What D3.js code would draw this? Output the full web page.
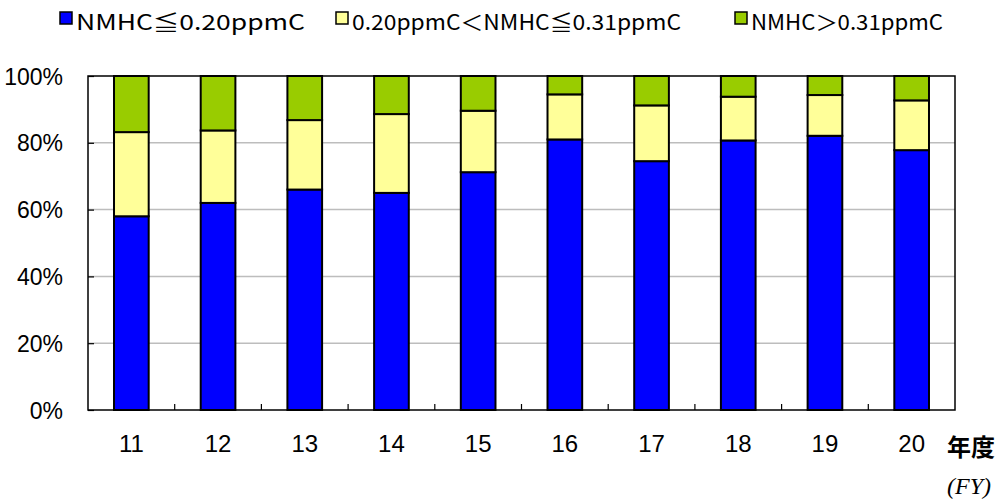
<!DOCTYPE html>
<html><head><meta charset="utf-8">
<script src="https://cdn.jsdelivr.net/npm/d3@7"></script>
<style>body{margin:0;background:#fff}</style>
</head><body>
<svg id="c" width="1005" height="501"></svg>
<script>
const categories = ["11","12","13","14","15","16","17","18","19","20"];
const low  = [58.0, 62.0, 66.0, 65.0, 71.2, 81.0, 74.5, 80.7, 82.1, 77.8];
const mid  = [25.2, 21.7, 20.8, 23.6, 18.4, 13.5, 16.7, 13.1, 12.2, 14.9];
const high = categories.map((c,i)=> +(100 - low[i] - mid[i]).toFixed(1));
const seriesNames = ["NMHC≦0.20ppmC", "0.20ppmC＜NMHC≦0.31ppmC", "NMHC＞0.31ppmC"];
const colors = ["#0000FF", "#FFFF99", "#99CC00"];
const yTicks = [0,20,40,60,80,100];

const svg = d3.select("#c");
const L=88, R=955, T=76, B=410;
const font = "'Noto Sans CJK JP', 'Noto Sans', sans-serif";
const numFont = "'Liberation Sans Narrow', 'Liberation Sans', sans-serif";

const x = d3.scaleBand().domain(categories).range([L,R]).paddingInner(0.6).paddingOuter(0.3);
const y = d3.scaleLinear().domain([0,100]).range([B,T]);

// gridlines
svg.append("g").selectAll("line").data(yTicks.filter(t=>t>0&&t<100)).join("line")
  .attr("x1",L).attr("x2",R).attr("y1",d=>y(d)).attr("y2",d=>y(d))
  .attr("stroke","#bdbdbd").attr("stroke-width",1.5);

// stacked bars
const rows = categories.map((c,i)=>({cat:c, s0:low[i], s1:mid[i], s2:high[i]}));
const stack = d3.stack().keys(["s0","s1","s2"])(rows);
svg.append("g").selectAll("g").data(stack).join("g")
  .attr("fill",(d,i)=>colors[i])
  .selectAll("rect").data(d=>d).join("rect")
  .attr("x",d=>x(d.data.cat)).attr("width",x.bandwidth())
  .attr("y",d=>y(d[1])).attr("height",d=>y(d[0])-y(d[1]))
  .attr("stroke","#000").attr("stroke-width",2);

// frame
svg.append("rect").attr("x",L).attr("y",T).attr("width",R-L).attr("height",B-T)
  .attr("fill","none").attr("stroke","#000").attr("stroke-width",1.5);

// y axis
const yAxis = d3.axisLeft(y).tickValues(yTicks).tickSizeInner(-6).tickSizeOuter(0).tickFormat(d=>d+"%").tickPadding(25);
const ga = svg.append("g").attr("transform",`translate(${L},0)`).call(yAxis);
ga.select(".domain").remove();
ga.selectAll("line").attr("stroke","#000").attr("stroke-width",1.2);
ga.selectAll("text").attr("font-family",numFont).attr("font-size",23).attr("fill","#000").attr("dy","0.35em");

// x axis ticks at band boundaries
const bounds = categories.slice(1).map(c => x(c) - x.step()*x.paddingInner()/2);
svg.append("g").selectAll("line").data(bounds).join("line")
  .attr("x1",d=>d).attr("x2",d=>d).attr("y1",B).attr("y2",B-6)
  .attr("stroke","#000").attr("stroke-width",1.2);
svg.append("g").selectAll("text").data(categories).join("text")
  .attr("x",d=>x(d)+x.bandwidth()/2).attr("y",452)
  .attr("text-anchor","middle").attr("font-family",numFont).attr("font-size",24)
  .text(d=>d);

svg.append("text").attr("x",947).attr("y",456).attr("font-family",font).attr("font-size",24).attr("font-weight","bold").text("年度");
svg.append("text").attr("x",947).attr("y",494).attr("font-family","'Liberation Serif', serif")
  .attr("font-style","italic").attr("font-size",24).text("(FY)");

// legend
const legX = [60, 336, 735];
const legW = [229, 329, 192];
const lg = svg.append("g").selectAll("g").data(seriesNames).join("g");
lg.append("rect").attr("x",(d,i)=>legX[i]).attr("y",12).attr("width",12).attr("height",12)
  .attr("fill",(d,i)=>colors[i]).attr("stroke","#000").attr("stroke-width",1.5);
lg.append("text").attr("x",(d,i)=>legX[i]+16).attr("y",30)
  .attr("font-family",font).attr("font-size",21)
  .attr("textLength",(d,i)=>legW[i]).attr("lengthAdjust","spacingAndGlyphs")
  .text(d=>d);
</script>
</body></html>
